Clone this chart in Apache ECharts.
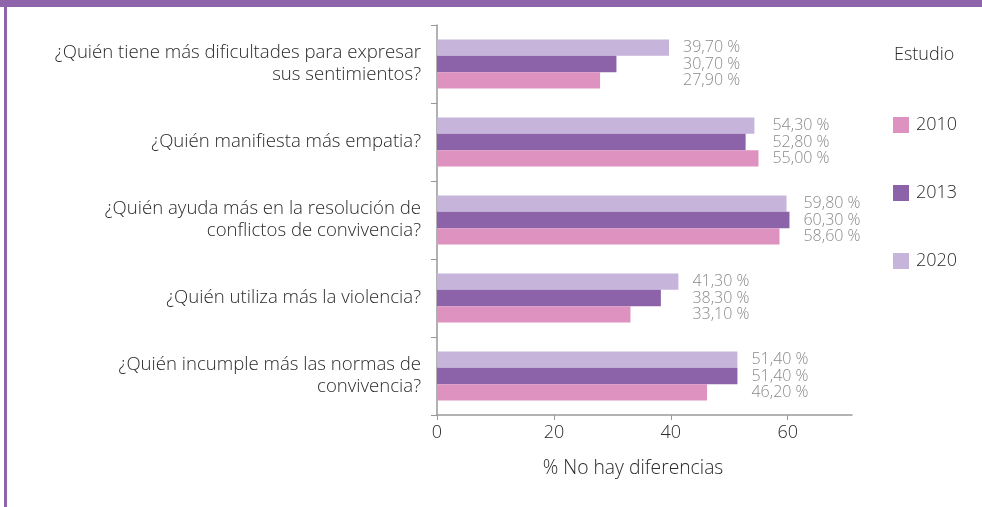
<!DOCTYPE html>
<html><head><meta charset="utf-8">
<script src="https://cdn.jsdelivr.net/npm/echarts@6/dist/echarts.min.js"></script>
<style>html,body{margin:0;padding:0;background:#fff}#c{width:982px;height:507px}</style>
</head><body><div id="c"></div>
<script>
// Categories listed top to bottom as they appear
const categories = [
  "¿Quién tiene más dificultades para expresar\nsus sentimientos?",
  "¿Quién manifiesta más empatia?",
  "¿Quién ayuda más en la resolución de\nconflictos de convivencia?",
  "¿Quién utiliza más la violencia?",
  "¿Quién incumple más las normas de\nconvivencia?"
];
const years = ["2010", "2013", "2020"];
const values2010 = [27.9, 55.0, 58.6, 33.1, 46.2];
const values2013 = [30.7, 52.8, 60.3, 38.3, 51.4];
const values2020 = [39.7, 54.3, 59.8, 41.3, 51.4];
const xTicks = [0, 20, 40, 60];

const colors = {"2010": "#de92c0", "2013": "#8c63a8", "2020": "#c7b4da"};
const FONT = "'Open Sans'";
const TXT = '#2a2a2a';

// axis runs bottom-to-top, so reverse for display order
const cats = categories.slice().reverse();
const s2010 = values2010.slice().reverse();
const s2013 = values2013.slice().reverse();
const s2020 = values2020.slice().reverse();
const labelData = cats.map((c, i) => [i, Math.max(s2010[i], s2013[i], s2020[i]), s2010[i], s2013[i], s2020[i]]);
const fmt = v => v.toFixed(2).replace('.', ',') + ' %';
const BW = 16.3;

const chart = echarts.init(document.getElementById('c'));
chart.setOption({
  animation: false,
  grid: {left: 437, top: 25, right: 130, bottom: 92, containLabel: false},
  title: {text: 'Estudio', left: 889, top: 41, textStyle: {fontFamily: FONT, fontWeight: 300, fontSize: 18, color: TXT}},
  legend: {
    orient: 'vertical', left: 888, top: 111, itemWidth: 16, itemHeight: 16, itemGap: 50,
    icon: 'rect', data: years,
    textStyle: {fontFamily: FONT, fontWeight: 300, fontSize: 18, color: TXT, padding: [0, 0, 0, 2]}
  },
  xAxis: {
    type: 'value', min: 0, max: 71, interval: 20,
    axisLine: {show: true, lineStyle: {color: '#999', width: 1.5}},
    axisTick: {show: true, length: 5, lineStyle: {color: '#999'}, customValues: xTicks},
    axisLabel: {fontFamily: FONT, fontWeight: 300, fontSize: 18, color: TXT, margin: 9, customValues: xTicks},
    splitLine: {show: false}
  },
  yAxis: {
    type: 'category', data: cats,
    axisLine: {show: true, lineStyle: {color: '#999', width: 1.5}},
    axisTick: {show: true, length: 6, lineStyle: {color: '#999'}},
    axisLabel: {fontFamily: FONT, fontWeight: 300, fontSize: 18.6, color: TXT, margin: 16, lineHeight: 22, align: 'right'}
  },
  graphic: [
    {type: 'rect', shape: {x: 0, y: 0, width: 982, height: 7}, style: {fill: '#8e65aa'}, z: 100},
    {type: 'rect', shape: {x: 4, y: 0, width: 3, height: 507}, style: {fill: '#8e65aa'}, z: 100},
    {type: 'text', x: 633, y: 469, style: {text: '% No hay diferencias', fontFamily: FONT, fontWeight: 300, fontSize: 19.3, fill: TXT, align: 'center', verticalAlign: 'middle'}}
  ],
  series: [
    {name: '2020', type: 'bar', data: s2020, barWidth: BW, barGap: '0%', itemStyle: {color: colors['2020']}},
    {name: '2013', type: 'bar', data: s2013, barWidth: BW, barGap: '0%', itemStyle: {color: colors['2013']}},
    {name: '2010', type: 'bar', data: s2010, barWidth: BW, barGap: '0%', itemStyle: {color: colors['2010']}},
    {
      type: 'custom', data: labelData, encode: {x: 1, y: 0}, z: 10,
      renderItem: function (params, api) {
        const p = api.coord([api.value(1), api.value(0)]);
        const x = p[0] + 14, y = p[1];
        const mk = (v, dy) => ({type: 'text', x: x, y: y + dy, style: {text: fmt(v), fontFamily: FONT, fontWeight: 300, fontSize: 16, fill: '#8a8a8a', align: 'left', verticalAlign: 'middle'}});
        return {type: 'group', children: [mk(api.value(4), -BW), mk(api.value(3), 0), mk(api.value(2), BW)]};
      }
    }
  ]
});
</script></body></html>
